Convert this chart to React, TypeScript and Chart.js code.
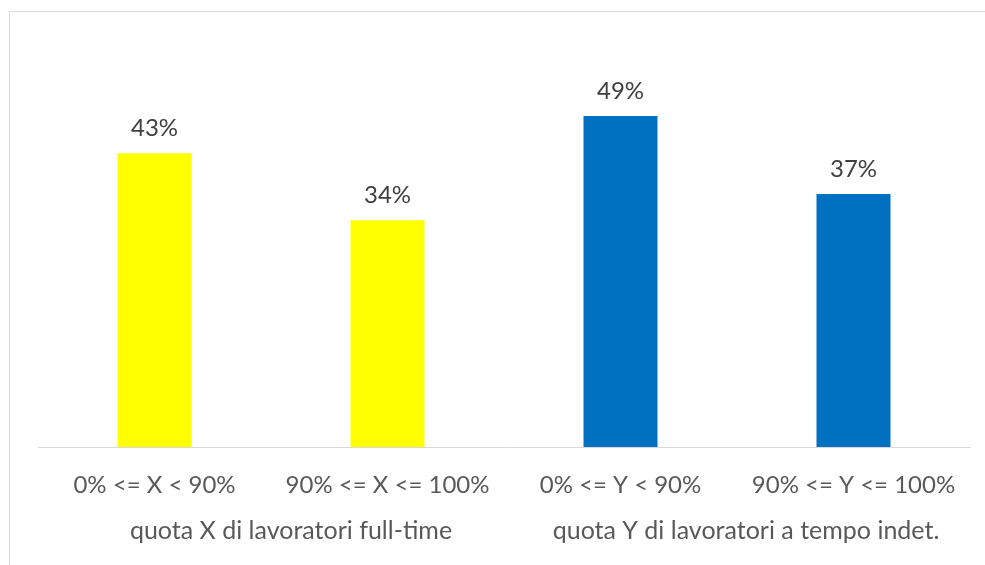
import React, { useEffect, useRef } from "react";
import { Chart, registerables } from "chart.js";

Chart.register(...registerables);

const categories = ["0% <= X < 90%", "90% <= X <= 100%", "0% <= Y < 90%", "90% <= Y <= 100%"];
const values = [43.4, 33.5, 48.9, 37.4];
const barColors = ["#FFFF00", "#FFFF00", "#0070C0", "#0070C0"];
const groupLabels = ["quota X di lavoratori full-time", "quota Y di lavoratori a tempo indet."];
const groupMembers = [[0, 1], [2, 3]];
const groupShift = [20, 9];

const FONT = "Lato, 'Open Sans', sans-serif";
const FONT_SIZE = 24;

const valueLabelPlugin = {
  id: "valueLabels",
  afterDatasetsDraw(chart: any) {
    const ctx = chart.ctx;
    const meta = chart.getDatasetMeta(0);
    ctx.save();
    ctx.font = `${FONT_SIZE}px ${FONT}`;
    ctx.fillStyle = "#404040";
    ctx.textAlign = "center";
    ctx.textBaseline = "middle";
    meta.data.forEach((bar: any, i: number) => {
      ctx.fillText(Math.round(values[i]) + "%", bar.x, bar.y - 25);
    });
    ctx.restore();
  },
};

const groupLabelPlugin = {
  id: "groupLabels",
  afterDraw(chart: any) {
    const ctx = chart.ctx;
    const xs = chart.scales.x;
    ctx.save();
    ctx.font = `${FONT_SIZE + 1}px ${FONT}`;
    ctx.fillStyle = "#595959";
    ctx.textAlign = "center";
    ctx.textBaseline = "middle";
    groupLabels.forEach((g, i) => {
      const [a, b] = groupMembers[i];
      const cx = (xs.getPixelForValue(a) + xs.getPixelForValue(b)) / 2 + groupShift[i];
      ctx.fillText(g, cx, chart.chartArea.bottom + 84);
    });
    ctx.restore();
  },
};

export default function App() {
  const ref = useRef<HTMLCanvasElement | null>(null);
  useEffect(() => {
    if (!ref.current) return;
    const chart = new Chart(ref.current, {
      type: "bar",
      data: {
        labels: categories,
        datasets: [
          {
            data: values,
            backgroundColor: barColors,
            borderWidth: 0,
            categoryPercentage: 1,
            barPercentage: 0.3176,
          },
        ],
      },
      options: {
        animation: false,
        responsive: false,
        maintainAspectRatio: false,
        layout: { padding: { left: 38, right: 15, top: 41, bottom: 0 } },
        plugins: { legend: { display: false }, tooltip: { enabled: false }, title: { display: false } },
        scales: {
          y: { display: false, min: 0, max: 60 },
          x: {
            grid: { display: false },
            border: { display: true, color: "#d9d9d9", width: 1 },
            ticks: {
              color: "#595959",
              font: { family: FONT, size: FONT_SIZE },
              padding: 16,
              autoSkip: false,
              maxRotation: 0,
              minRotation: 0,
            },
            afterFit(scale: any) {
              scale.height = 118;
            },
          },
        },
      },
      plugins: [valueLabelPlugin, groupLabelPlugin],
    });
    return () => chart.destroy();
  }, []);

  return (
    <div style={{ position: "fixed", left: 0, top: 0, width: 985, height: 565, overflow: "hidden", background: "#fff" }}>
      <div
        style={{
          position: "absolute",
          left: 9,
          top: 11,
          width: 1100,
          height: 700,
          borderLeft: "1px solid #d9d9d9",
          borderTop: "1px solid #d9d9d9",
          boxSizing: "border-box",
        }}
      />
      <canvas ref={ref} width={985} height={565} style={{ position: "absolute", left: 0, top: 0, width: 985, height: 565 }} />
    </div>
  );
}
